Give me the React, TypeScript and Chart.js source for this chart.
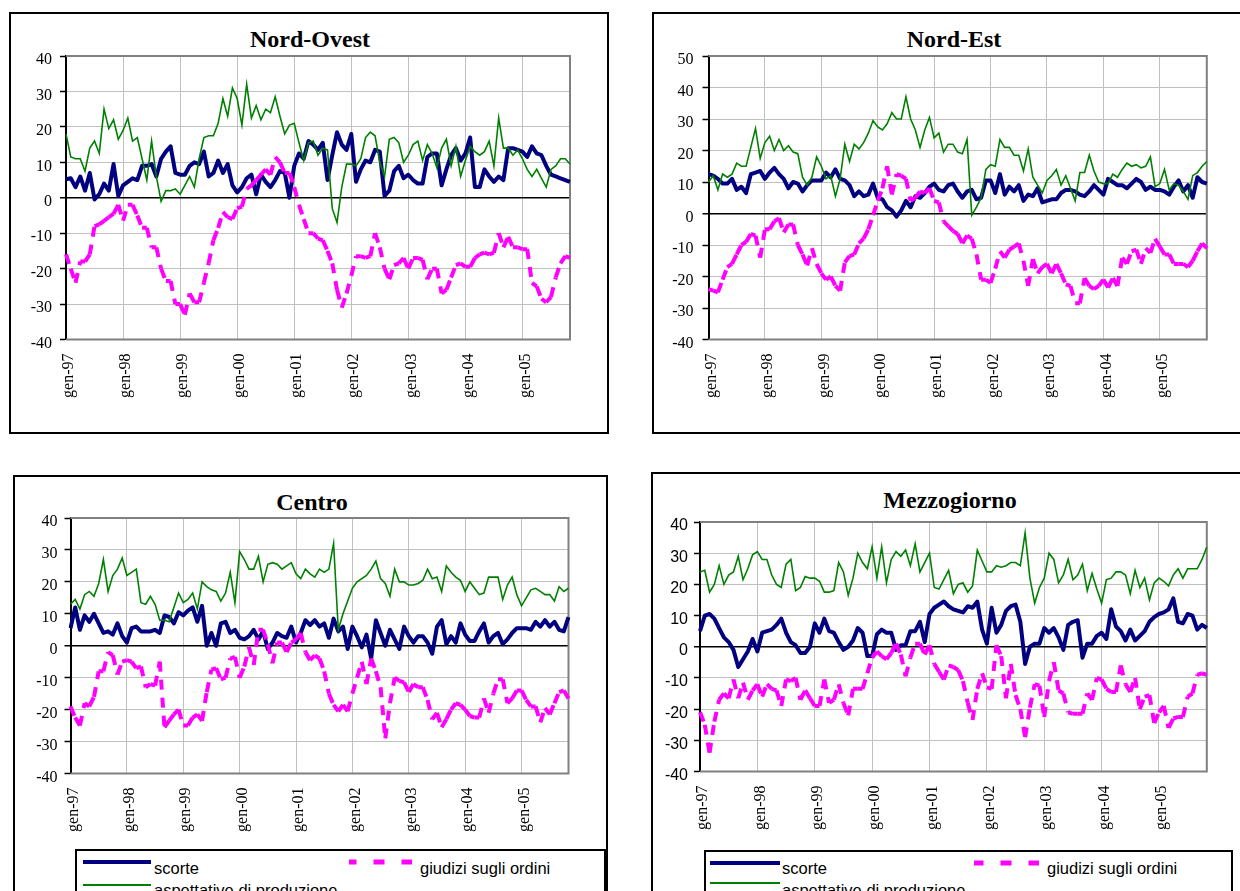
import React, { useEffect, useRef } from "react";
import { Chart, registerables } from "chart.js";

Chart.register(...registerables);

// ---------- categories ----------
const MONTHS = ["gen", "feb", "mar", "apr", "mag", "giu", "lug", "ago", "set", "ott", "nov", "dic"];
const YEARS = ["97", "98", "99", "00", "01", "02", "03", "04", "05"];
const N_POINTS = 107;
const categories: string[] = [];
for (let i = 0; i < N_POINTS; i++) categories.push(`${MONTHS[i % 12]}-${YEARS[Math.floor(i / 12)]}`);

const SERIES_NAMES = ["scorte", "giudizi sugli ordini", "aspettative di produzione"];

// ---------- Nord-Ovest ----------
const nordOvestScorte = [
  5.2, 5.5, 3, 6, 2, 7, -0.5, 1, 4, 2, 9.5, 0.5,
  3.5, 4.5, 5.5, 5, 9, 9, 9.5, 6, 11, 13, 14.5, 7,
  6.5, 6.5, 9, 10, 9.5, 13, 6, 7, 10.5, 7, 9.5, 3.5,
  1.5, 3, 5.5, 6.5, 1, 6.5, 4.5, 3, 5, 7.5, 7, 0,
  9, 12.5, 11, 16, 15, 13.5, 15.5, 5, 12, 18.5, 15, 13.5,
  18, 4.5, 8, 10.5, 10, 13.5, 13, 0.5, 2, 7.5, 9, 5.5,
  6.5, 5, 4, 4, 11.5, 12.5, 12.5, 3.5, 8, 12, 14, 10.5,
  12.5, 17, 3, 3, 8, 6, 4.5, 6, 5, 14, 14, 13.5,
  13, 11.5, 14.5, 12.5, 12, 9, 6.5, 6, 5.5, 5, 4.5,
];
const nordOvestGiudizi = [
  -16, -20, -24, -18, -18, -16, -8, -7.5, -6.5, -5.5, -4.5, -2,
  -6.5, -2, -2, -5, -8.5, -8.5, -14, -14, -20, -23.5, -23.5, -30,
  -30, -33, -27, -29.5, -29.5, -24, -18.5, -12, -8.5, -4, -5.5, -6,
  -3, -2.5, 2.5, 3.5, 5, 6.5, 8, 6.5, 11.5, 10, 7, 7,
  3, -2, -6, -10, -10, -11.5, -12, -15, -18.5, -26, -31, -27,
  -22, -16.5, -16.5, -17, -16.5, -10, -14, -20, -23, -19, -18.5, -17,
  -20, -17, -17, -17.5, -23, -20, -20, -27, -26, -22.5, -19, -18.5,
  -19.5, -19.5, -17, -16, -15.5, -16, -15.5, -10, -14, -11, -14, -14,
  -14.5, -14.5, -24, -25, -28.5, -29.5, -28, -22.5, -18.5, -16.5, -17,
];
const nordOvestAspettative = [
  18, 11.5, 11, 11, 7.5, 14, 16, 12.5, 25, 19.5, 22, 16.5,
  19, 22.5, 16, 17, 11, 5, 16, 6, -1, 2, 2, 2.5,
  1, 3.5, 6, 3, 11, 17, 17.5, 17.5, 21, 28, 23, 31,
  28, 20.5, 32, 22.5, 26, 22, 25, 24, 28.5, 23, 18, 20.5,
  21, 15.5, 10.5, 15.5, 16, 12, 14, 13.5, -3, -7, 3, 9.5,
  9.5, 9, 11, 17, 18.5, 17.5, 10, 6, 16.5, 17, 15.5, 10,
  12, 15, 16, 10.5, 15, 12.5, 8.5, 14, 16.5, 9, 14.5, 6,
  10.5, 14.5, 13, 12, 13, 16, 9, 22.5, 14, 14, 12, 13.5,
  11, 8, 6, 8, 5.5, 3, 8, 9, 11, 11, 9.5,
];

// ---------- Nord-Est ----------
const nordEstScorte = [
  12.5, 12, 11, 9.5, 9.5, 11, 7.5, 8.5, 6.5, 12.5, 13, 13.5,
  11, 13, 14.5, 12.5, 11, 8, 10, 9.5, 7, 9, 10.5, 10.5,
  10.5, 13, 11.5, 14, 11, 10.5, 9, 5.5, 7, 5.5, 6, 9.5,
  5, 4.5, 2, 1, -1, 1, 4, 2, 5.5, 5, 6.5, 8.5,
  9.5, 7.5, 7, 9, 9.5, 7, 5, 7, 7.5, 4.5, 5, 10.5,
  10.5, 6.5, 12.5, 6, 8.5, 7, 9, 4, 6, 5.5, 8, 3.5,
  4, 4.5, 4.5, 6.5, 7.5, 7.5, 7, 6, 5.5, 7, 9, 7.5,
  6, 11, 10, 9, 9, 8, 9.5, 11, 10, 7.5, 8.5, 7.5,
  7.5, 7, 6, 8.5, 10.5, 7, 9, 5, 11.5, 10, 9.5,
];
const nordEstGiudizi = [
  -24, -24.5, -25, -21, -17, -16, -13, -10, -9, -6.5, -7, -14,
  -5, -5, -2.5, -1.5, -6, -3.5, -3.5, -10, -13, -16.5, -11, -16,
  -19, -21, -20, -23, -24.5, -15.5, -13.5, -13, -9.5, -8, -5, -0.5,
  4, 8, 15, 6, 12.5, 12, 11, 4, 5, 7, 6.5, 8,
  4, 3.5, -2.5, -4, -5.5, -6.5, -9.5, -7, -8, -13, -21, -21,
  -22, -17.5, -12, -14, -11.5, -10.5, -9.5, -15, -23, -14.5, -19, -17,
  -16, -19, -16, -19, -22.5, -23, -28.5, -28.5, -20.5, -23, -24, -23,
  -21, -23.5, -20.5, -23, -14, -16, -12, -11.5, -16, -11, -12.5, -8,
  -10.5, -13, -13, -16, -16, -16, -17, -15, -12, -9.5, -11,
];
const nordEstAspettative = [
  10, 12, 7.5, 12.5, 11.5, 12.5, 16, 15, 15, 21, 27, 17.5,
  22.5, 24.5, 20, 23.5, 20, 21.5, 19.5, 19, 11.5, 9, 11.5, 18,
  15, 11, 12, 5.5, 11, 22, 16.5, 22, 20.5, 22.5, 25.5, 29.5,
  27.5, 26.5, 28.5, 32, 30, 30, 37, 30, 26.5, 21, 26.5, 30.5,
  24, 25.5, 19.5, 22, 22, 19.5, 19, 23.5, -0.5, 2, 5, 14,
  15.5, 15, 23.5, 21, 21, 18.5, 18.5, 13.5, 20.5, 11.5, 9, 6.5,
  10.5, 12, 14, 9, 12, 8, 4, 13, 13, 18.5, 13.5, 10,
  9.5, 9.5, 12.5, 11.5, 14, 16, 15, 15.5, 14.5, 15, 18, 8.5,
  9.5, 14, 7.5, 9.5, 9, 7, 4.5, 12, 13, 15, 16.5,
];

// ---------- Centro ----------
const centroScorte = [
  5.5, 12, 5, 9.5, 7.5, 10, 7, 4, 4.5, 3.5, 7, 3,
  1, 5.5, 6, 4.5, 4.5, 4.5, 5, 4, 9.5, 9, 7, 10.5,
  9.5, 11, 12, 7.5, 12.5, 0, 4, 0, 7, 7.5, 4, 5,
  2.5, 2, 3, 5, 2, 4.5, -1, 1, 4, 3, 2.5, 6,
  1, 4, 8, 6.5, 8, 6, 7, 2.5, 8.5, 4.5, 6, -1,
  6, 3, -0.5, 3.5, -4, 8, 4, 0, 5, 2, -1, 6,
  3, 1, 3, 3, 1, -2.5, 6, 8, 0.5, 3, 1, 7,
  3.5, 1.5, 1.5, 4.5, 7, 1, 3, 4, 0.5, 2, 4, 5.5,
  5.5, 5.5, 5, 7.5, 6, 8, 6, 7.5, 5, 4.5, 9,
];
const centroGiudizi = [
  -19, -22.5, -25, -18, -19, -16, -8, -8, -2, -3, -9, -5,
  -4.5, -5, -7, -6.5, -13, -12, -12.5, -5, -25.5, -23.5, -21.5, -20,
  -25, -25, -22.5, -21.5, -23.5, -14.5, -7.5, -7, -10.5, -10, -4, -3.5,
  -10, -6.5, -0.5, -6, 5, 5, 0.5, -5.5, 1, 1, -2, 1,
  2, 4, -2, -4.5, -3, -4, -8, -15, -18.5, -20.5, -18.5, -20.5,
  -15, -10, -5, -12, -4, -8, -13, -29, -18, -10, -11, -11.5,
  -14.5, -12, -13, -13, -17, -23, -21, -25.5, -23, -20, -18, -18.5,
  -20, -22, -22.5, -22.5, -16.5, -21, -15, -10.5, -10.5, -18, -16.5, -14,
  -14, -17, -19, -19, -24, -19.5, -21.5, -18, -14.5, -14, -16.5,
];
const centroAspettative = [
  13, 14.5, 11.5, 16, 17, 15.5, 19.5, 27, 17, 22, 24, 27.5,
  22, 23, 24, 13.5, 13, 15.5, 13, 8, 8, 7.5, 12, 16.5,
  13.5, 14.5, 16.5, 11.5, 20, 18.5, 17.5, 17, 14, 16.5, 23, 13.5,
  29.5, 27, 24, 24, 28, 20, 25.5, 26, 25.5, 24, 25, 26,
  22.5, 21, 24, 22.5, 21.5, 24, 23, 24, 32, 5, 10, 14,
  18, 20, 21, 22, 24, 26.5, 21, 19.5, 15.5, 24, 20, 20,
  19, 19, 19.5, 20.5, 24, 21, 21.5, 17, 25, 23, 21.5, 20.5,
  17, 20, 18, 16, 16.5, 21.5, 21.5, 21.5, 14.5, 19, 21.5, 16,
  12.5, 15, 17.5, 18, 17, 16, 16, 14, 18.5, 17, 18,
];

// ---------- Mezzogiorno ----------
const mezzogiornoScorte = [
  5, 10, 10.5, 9, 6, 3, 1.5, -1, -6.5, -4, -1.5, 2.5,
  -1.5, 4.5, 5, 5.5, 7, 9, 4.5, 1.5, 0.5, -2, -2, 0,
  7.5, 4.5, 9, 5, 4.5, 1.5, -1, 0, 2, 6, 4.5, -3,
  -3, 4, 5.5, 4.5, 4.5, -1, 0.5, 0.5, 5, 5, 8, 1.5,
  10.5, 12.5, 13.5, 14.5, 13, 12, 11.5, 11, 13, 12.5, 14.5, 5.5,
  1, 12.5, 4.5, 7, 11.5, 13, 13.5, 8, -5.5, 0, 1, 1,
  6, 4.5, 6, 3, -1, 7, 8, 8.5, -3.5, 1, 1, 3.5,
  4.5, 2.5, 12, 6.5, 5, 2, 5.5, 2, 3.5, 5, 8, 9.5,
  10.5, 11, 12, 15.5, 8, 7.5, 10.5, 10, 5.5, 7, 6,
];
const mezzogiornoGiudizi = [
  -21, -25, -34, -24, -17, -15, -16.5, -10.5, -16.5, -11.5, -17, -14,
  -12, -16, -12, -13.5, -14, -19, -10.5, -11, -10, -17, -14, -16.5,
  -19, -19, -10.5, -18, -17, -12, -18, -22, -13.5, -13.5, -13.5, -8.5,
  -3.5, -1.5, -3, -4, -2, 1, -2.5, -9.5, -3.5, 1, 1, -2.5,
  0.5, -5.5, -8, -10.5, -6, -6.5, -7.5, -11, -18, -23.5, -13.5, -8.5,
  -13, -13.5, 0.5, -3, -16.5, -5.5, -15.5, -20, -29, -19.5, -12, -12.5,
  -22.5, -11, -5, -14, -15, -21, -21.5, -21.5, -21.5, -15, -17, -10,
  -10.5, -13.5, -14.5, -14.5, -6, -12, -14.5, -10, -20, -16, -15.5, -24.5,
  -21, -19, -26, -23, -22.5, -22.5, -16, -15, -9, -8.5, -9,
];
const mezzogiornoAspettative = [
  24, 24.5, 17.5, 20, 26, 20, 23, 24, 29, 21.5, 25, 29.5,
  30.5, 28, 28, 23, 20, 19, 26.5, 28, 18, 19, 22.5, 22,
  22, 21, 17.5, 17.5, 18, 27, 24, 16.5, 22, 30, 27, 25,
  32, 22, 32, 20.5, 28, 30.5, 29, 31, 26, 33, 24, 27,
  30, 19, 18.5, 21.5, 24.5, 17, 20, 20.5, 17.5, 19.5, 31, 27.5,
  24, 24, 26, 25.5, 26, 27, 27, 26, 36.5, 22, 14, 19,
  22, 30, 28, 20.5, 23, 28, 21.5, 23, 26.5, 18, 23.5, 18.5,
  14, 21.5, 22, 24, 24, 23, 17, 24.5, 19, 22, 15, 20.5,
  22, 21, 19.5, 23, 25, 22, 25, 25, 25, 28, 32,
];

// ---------- styling ----------
const SERIF = '"Liberation Serif", "Times New Roman", Times, serif';
const SANS = '"Liberation Sans", Arial, Helvetica, sans-serif';
const NAVY = "#000080";
const MAGENTA = "#FF00FF";
const GREEN = "#008000";
const GRID = "#c0c0c0";
const FRAME = "#808080";

type Rect = { l: number; t: number; w: number; h: number };
type Panel = {
  title: string;
  titleX: number;
  titleBase: number;
  box: Rect;
  canvas: Rect;
  plot: { L: number; T: number; R: number; B: number };
  yMax: number;
  yFont: string;
  yPad: number;
  scorte: number[];
  giudizi: number[];
  aspettative: number[];
  legend?: {
    box: Rect;
    lineX1: number;
    lineX2: number;
    row1Y: number;
    row2Y: number;
    text1X: number;
    base1: number;
    base2: number;
    dashX1: number;
    dashX2: number;
    dashOffset: number;
    text2X: number;
  };
};

const PANELS: Panel[] = [
  {
    title: "Nord-Ovest", titleX: 310, titleBase: 47.3,
    box: { l: 9, t: 12, w: 600, h: 422 },
    canvas: { l: 11, t: 14, w: 596, h: 418 },
    plot: { L: 66, T: 56, R: 570, B: 339.5 },
    yMax: 40, yFont: SERIF, yPad: 8,
    scorte: nordOvestScorte, giudizi: nordOvestGiudizi, aspettative: nordOvestAspettative,
  },
  {
    title: "Nord-Est", titleX: 954, titleBase: 47.3,
    box: { l: 652, t: 12, w: 620, h: 422 },
    canvas: { l: 654, t: 14, w: 586, h: 418 },
    plot: { L: 708.5, T: 56, R: 1211, B: 339.5 },
    yMax: 50, yFont: SERIF, yPad: 9,
    scorte: nordEstScorte, giudizi: nordEstGiudizi, aspettative: nordEstAspettative,
  },
  {
    title: "Centro", titleX: 312, titleBase: 510,
    box: { l: 13, t: 475, w: 595, h: 440 },
    canvas: { l: 15, t: 477, w: 591, h: 372 },
    plot: { L: 70.5, T: 518, R: 568.5, B: 773.5 },
    yMax: 40, yFont: SERIF, yPad: 7,
    scorte: centroScorte, giudizi: centroGiudizi, aspettative: centroAspettative,
    legend: {
      box: { l: 75, t: 849, w: 531, h: 60 },
      lineX1: 83, lineX2: 151, row1Y: 861.5, row2Y: 885,
      text1X: 154, base1: 874, base2: 895.5,
      dashX1: 348.7, dashX2: 412, dashOffset: 3.5, text2X: 420,
    },
  },
  {
    title: "Mezzogiorno", titleX: 950, titleBase: 508.3,
    box: { l: 651, t: 472, w: 620, h: 440 },
    canvas: { l: 653, t: 474, w: 587, h: 376 },
    plot: { L: 700, T: 522, R: 1216, B: 771.5 },
    yMax: 40, yFont: SANS, yPad: 6,
    scorte: mezzogiornoScorte, giudizi: mezzogiornoGiudizi, aspettative: mezzogiornoAspettative,
    legend: {
      box: { l: 704, t: 850, w: 529, h: 60 },
      lineX1: 710, lineX2: 780, row1Y: 863.3, row2Y: 883.3,
      text1X: 782, base1: 874, base2: 895.5,
      dashX1: 973.5, dashX2: 1039, dashOffset: 1.5, text2X: 1047,
    },
  },
];

const framePlugin = {
  id: "plotFrame",
  beforeDatasetsDraw(chart: any) {
    const { ctx, chartArea: a } = chart;
    ctx.save();
    ctx.strokeStyle = FRAME;
    ctx.lineWidth = 2;
    ctx.beginPath();
    ctx.moveTo(a.left, a.top);
    ctx.lineTo(a.right, a.top);
    ctx.lineTo(a.right, a.bottom);
    ctx.lineTo(a.left, a.bottom);
    ctx.stroke();
    ctx.restore();
  },
};

function PanelChart({ p }: { p: Panel }) {
  const ref = useRef<HTMLCanvasElement>(null);
  useEffect(() => {
    const canvas = ref.current;
    if (!canvas) return;
    const yW = p.plot.L - p.canvas.l;
    const padT = p.plot.T - p.canvas.t;
    const padR = p.canvas.l + p.canvas.w - p.plot.R;
    const xH = p.canvas.t + p.canvas.h - p.plot.B;
    const chart = new Chart(canvas, {
      type: "line",
      data: {
        labels: categories,
        datasets: [
          {
            label: SERIES_NAMES[2],
            data: p.aspettative,
            borderColor: GREEN,
            borderWidth: 1.6,
            pointRadius: 0,
            tension: 0,
            fill: false,
          },
          {
            label: SERIES_NAMES[1],
            data: p.giudizi,
            borderColor: MAGENTA,
            borderWidth: 4,
            borderDash: [10, 8],
            borderCapStyle: "butt",
            pointRadius: 0,
            tension: 0,
            fill: false,
            segment: {
              borderDashOffset: (c: any) => (c.p0DataIndex % 2) * 0.001,
            },
          },
          {
            label: SERIES_NAMES[0],
            data: p.scorte,
            borderColor: NAVY,
            borderWidth: 4,
            borderJoinStyle: "round",
            pointRadius: 0,
            tension: 0,
            fill: false,
          },
        ],
      } as any,
      options: {
        animation: false,
        responsive: false,
        devicePixelRatio: 1,
        events: [],
        layout: { padding: { left: 0, top: padT, right: padR, bottom: 0 } },
        plugins: {
          legend: { display: false },
          title: { display: false },
          tooltip: { enabled: false },
        },
        scales: {
          x: {
            type: "category",
            offset: false,
            grid: {
              display: true,
              drawTicks: false,
              offset: false,
              color: (c: any) => (c.index % 12 === 0 ? GRID : "rgba(0,0,0,0)"),
              lineWidth: 1,
            },
            border: { display: false },
            ticks: {
              autoSkip: false,
              minRotation: 90,
              maxRotation: 90,
              padding: 14,
              labelOffset: 3,
              color: "#000",
              font: { family: SERIF, size: 16 },
              callback: (_v: any, i: number) => (i % 12 === 0 ? categories[i] : ""),
            },
            afterFit: (s: any) => {
              s.height = xH;
            },
          },
          y: {
            min: -40,
            max: p.yMax,
            grid: {
              color: (c: any) => (c.tick && c.tick.value === 0 ? "#000" : GRID),
              lineWidth: (c: any) => (c.tick && c.tick.value === 0 ? 1.5 : 1),
              tickColor: "#000",
              tickLength: 6,
              tickWidth: 1.5,
              drawTicks: true,
            },
            border: { display: true, color: "#000", width: 2 },
            ticks: {
              stepSize: 10,
              padding: p.yPad,
              labelOffset: 4,
              color: "#000",
              font: { family: p.yFont, size: 16 },
              callback: (v: any) => String(v),
            },
            afterFit: (s: any) => {
              s.width = yW;
            },
          },
        },
      } as any,
      plugins: [framePlugin],
    });
    return () => chart.destroy();
  }, [p]);
  return (
    <canvas
      ref={ref}
      width={p.canvas.w}
      height={p.canvas.h}
      style={{ position: "absolute", left: p.canvas.l, top: p.canvas.t, width: p.canvas.w, height: p.canvas.h }}
    />
  );
}

function LegendBox({ p }: { p: Panel }) {
  const lg = p.legend;
  if (!lg) return null;
  const fs = 16.5;
  const textStyle = (x: number, base: number): React.CSSProperties => ({
    position: "absolute",
    left: x,
    top: base - 0.8465 * fs,
    fontFamily: SANS,
    fontSize: fs,
    lineHeight: `${fs}px`,
    whiteSpace: "nowrap",
    color: "#000",
  });
  const dashLen = lg.dashX2 - lg.dashX1;
  return (
    <>
      <div
        style={{
          position: "absolute",
          left: lg.box.l,
          top: lg.box.t,
          width: lg.box.w,
          height: lg.box.h,
          border: "2px solid #000",
          boxSizing: "border-box",
          background: "#fff",
        }}
      />
      <div style={{ position: "absolute", left: lg.lineX1, top: lg.row1Y - 2, width: lg.lineX2 - lg.lineX1, height: 4, background: NAVY }} />
      <div style={textStyle(lg.text1X, lg.base1)}>{SERIES_NAMES[0]}</div>
      <svg
        style={{ position: "absolute", left: lg.dashX1, top: lg.row1Y - 4 }}
        width={dashLen}
        height={8}
      >
        <line x1={0} y1={4} x2={dashLen} y2={4} stroke={MAGENTA} strokeWidth={5} strokeDasharray="11 17" strokeDashoffset={lg.dashOffset} />
      </svg>
      <div style={textStyle(lg.text2X, lg.base1)}>{SERIES_NAMES[1]}</div>
      <div style={{ position: "absolute", left: lg.lineX1, top: lg.row2Y - 1, width: lg.lineX2 - lg.lineX1, height: 2, background: GREEN }} />
      <div style={textStyle(lg.text1X, lg.base2)}>{SERIES_NAMES[2]}</div>
    </>
  );
}

function PanelView({ p }: { p: Panel }) {
  return (
    <>
      <div
        style={{
          position: "absolute",
          left: p.box.l,
          top: p.box.t,
          width: p.box.w,
          height: p.box.h,
          border: "2px solid #000",
          boxSizing: "border-box",
          background: "#fff",
        }}
      />
      <div
        style={{
          position: "absolute",
          left: p.titleX - 200,
          width: 400,
          top: p.titleBase - 20.1,
          textAlign: "center",
          fontFamily: SERIF,
          fontWeight: "bold",
          fontSize: 24,
          lineHeight: "24px",
          whiteSpace: "nowrap",
          color: "#000",
        }}
      >
        {p.title}
      </div>
      <PanelChart p={p} />
      <LegendBox p={p} />
    </>
  );
}

export default function App() {
  return (
    <div
      style={{
        position: "absolute",
        left: 0,
        top: 0,
        width: 1240,
        height: 891,
        overflow: "hidden",
        background: "#fff",
      }}
    >
      {PANELS.map((p) => (
        <PanelView key={p.title} p={p} />
      ))}
    </div>
  );
}
